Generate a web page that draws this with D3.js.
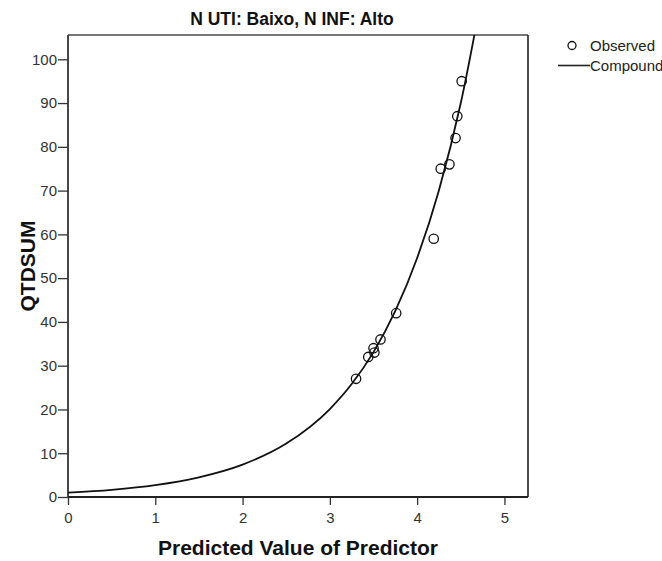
<!DOCTYPE html>
<html>
<head>
<meta charset="utf-8">
<script src="https://cdn.jsdelivr.net/npm/d3@7"></script>
<style>
  html, body { margin: 0; padding: 0; background: #fff; }
  svg { display: block; font-family: "Liberation Sans", Arial, sans-serif; }
</style>
</head>
<body>
<svg id="chart" width="662" height="561"></svg>
<script>
// ---- data ----
const chartTitle = "N UTI: Baixo, N INF: Alto";
const xLabel = "Predicted Value of Predictor";
const yLabel = "QTDSUM";
const legendLabels = ["Observed", "Compound"];

const observedX = [3.30, 3.44, 3.51, 3.50, 3.58, 3.76, 4.19, 4.27, 4.37, 4.44, 4.46, 4.51];
const observedY = [27, 32, 33, 34, 36, 42, 59, 75, 76, 82, 87, 95];

const curveX = [0, 0.5, 1, 1.5, 2, 2.5, 3, 3.25, 3.5, 3.75, 4, 4.25, 4.5, 4.75];
const curveY = [1.0, 1.65, 2.72, 4.5, 7.4, 12.2, 20.1, 25.8, 33.1, 42.5, 54.6, 70.1, 90.0, 115.6];

const xTicks = [0, 1, 2, 3, 4, 5];
const yTicks = [0, 10, 20, 30, 40, 50, 60, 70, 80, 90, 100];

// ---- layout ----
const W = 662, H = 561;
const margin = { left: 68, right: 134, top: 35, bottom: 64 };
const pw = W - margin.left - margin.right;
const ph = H - margin.top - margin.bottom;

const svg = d3.select("#chart");
const x = d3.scaleLinear().domain([0, 5.27]).range([0, pw]);
const y = d3.scaleLinear().domain([0, 105.55]).range([ph, 0]);

const g = svg.append("g").attr("transform", `translate(${margin.left},${margin.top})`);

// clip
svg.append("defs").append("clipPath").attr("id", "clip")
  .append("rect").attr("x", 0).attr("y", 0).attr("width", pw).attr("height", ph);

// frame: top + right
g.append("line").attr("x1", 0).attr("x2", pw).attr("y1", 0).attr("y2", 0)
  .attr("stroke", "#777").attr("stroke-width", 2);
g.append("line").attr("x1", pw).attr("x2", pw).attr("y1", 0).attr("y2", ph)
  .attr("stroke", "#222").attr("stroke-width", 1.6);

// axes
const yAxis = g.append("g")
  .call(d3.axisLeft(y).tickValues(yTicks).tickSize(10).tickPadding(1).tickFormat(d3.format("d")));
const xAxis = g.append("g").attr("transform", `translate(0,${ph})`)
  .call(d3.axisBottom(x).tickValues(xTicks).tickSize(8).tickPadding(7).tickFormat(d3.format("d")));

[xAxis, yAxis].forEach(a => {
  a.select(".domain").remove();
  a.selectAll(".tick line").attr("stroke", "#333").attr("stroke-width", 1.3);
  a.selectAll(".tick text").attr("fill", "#333").style("font-size", "15px")
    .style("font-family", "'Liberation Sans', Arial, sans-serif");
});
g.append("line").attr("x1", 0).attr("x2", 0).attr("y1", 0).attr("y2", ph)
  .attr("stroke", "#333").attr("stroke-width", 1.8);
g.append("line").attr("x1", 0).attr("x2", pw).attr("y1", ph).attr("y2", ph)
  .attr("stroke", "#222").attr("stroke-width", 1.8);

// curve
const curveData = curveX.map((d, i) => [d, curveY[i]]);
g.append("path")
  .datum(curveData)
  .attr("clip-path", "url(#clip)")
  .attr("fill", "none")
  .attr("stroke", "#111")
  .attr("stroke-width", 1.8)
  .attr("d", d3.line().x(d => x(d[0])).y(d => y(d[1])).curve(d3.curveMonotoneX));

// observed points
const obs = observedX.map((d, i) => [d, observedY[i]]);
g.selectAll("circle.obs").data(obs).join("circle")
  .attr("class", "obs")
  .attr("cx", d => x(d[0])).attr("cy", d => y(d[1]))
  .attr("r", 4.7)
  .attr("fill", "none").attr("stroke", "#111").attr("stroke-width", 1.3);

// title
svg.append("text").attr("x", 292).attr("y", 25)
  .attr("text-anchor", "middle").style("font-size", "17.5px").style("font-weight", "bold")
  .attr("fill", "#111").text(chartTitle);

// axis labels
svg.append("text").attr("x", margin.left + pw / 2).attr("y", 555)
  .attr("text-anchor", "middle").style("font-size", "21px").style("font-weight", "bold")
  .attr("fill", "#111").text(xLabel);
svg.append("text").attr("transform", `translate(35,${margin.top + ph / 2}) rotate(-90)`)
  .attr("text-anchor", "middle").style("font-size", "21px").style("font-weight", "bold")
  .attr("fill", "#111").text(yLabel);

// legend
const lg = svg.append("g");
lg.append("circle").attr("cx", 572).attr("cy", 45.5).attr("r", 4)
  .attr("fill", "none").attr("stroke", "#111").attr("stroke-width", 1.3);
lg.append("text").attr("x", 590).attr("y", 51).style("font-size", "15px")
  .attr("fill", "#222").text(legendLabels[0]);
lg.append("line").attr("x1", 558).attr("x2", 590).attr("y1", 65.5).attr("y2", 65.5)
  .attr("stroke", "#222").attr("stroke-width", 1.6);
lg.append("text").attr("x", 590).attr("y", 70.5).style("font-size", "15px")
  .attr("fill", "#222").text(legendLabels[1]);
</script>
</body>
</html>
